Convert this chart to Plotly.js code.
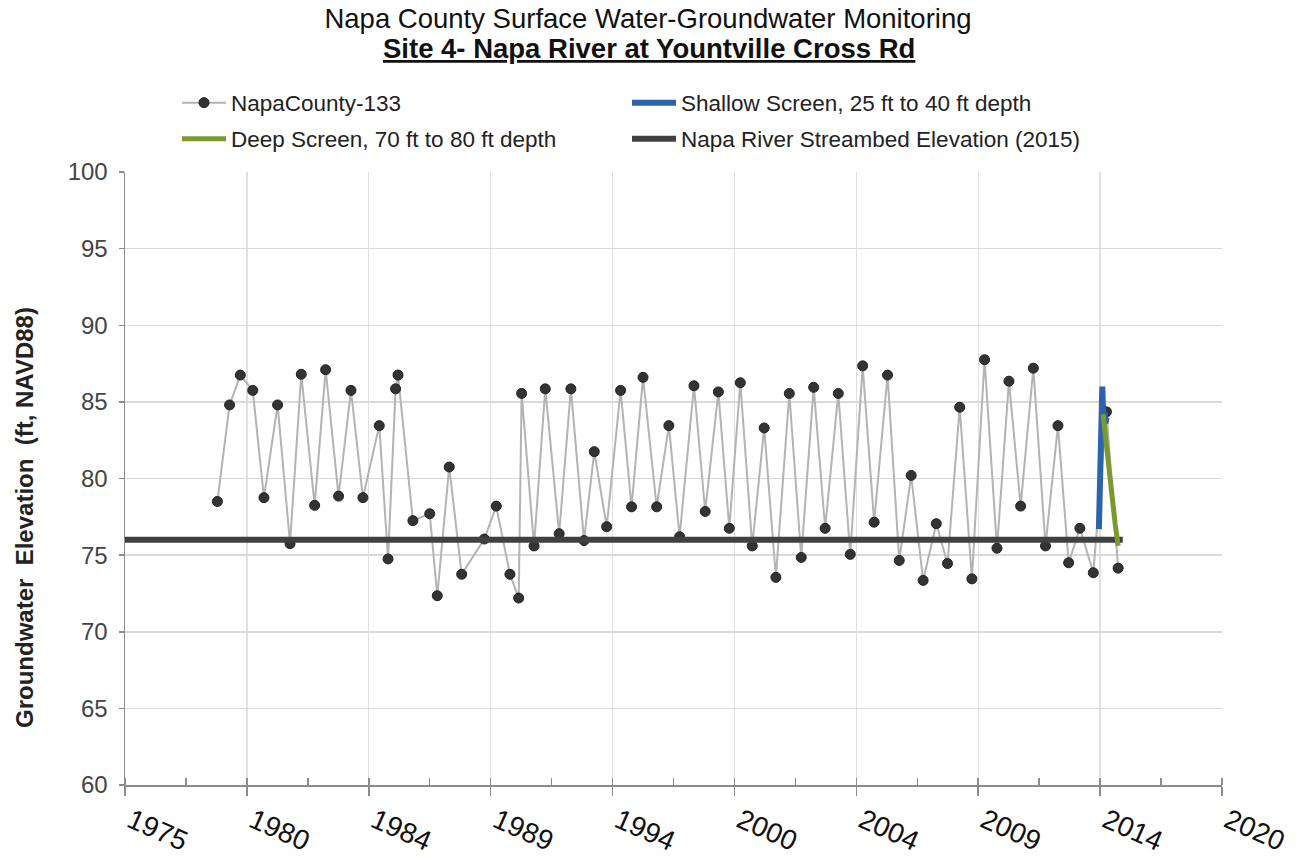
<!DOCTYPE html>
<html>
<head>
<meta charset="utf-8">
<script src="https://cdn.plot.ly/plotly-3.0.1.min.js"></script>
<style>html,body{margin:0;padding:0;background:#fff;}#chart{width:1296px;height:859px;}</style>
</head>
<body>
<div id="chart"></div>
<script>
// ---- data (decimal years on the chart's date axis, elevation in ft NAVD88) ----
var napaYears = [1978.79, 1979.29, 1979.73, 1980.24, 1980.70, 1981.26, 1981.77, 1982.23, 1982.78, 1983.23,
  1983.76, 1984.27, 1984.76, 1985.43, 1985.79, 1986.10, 1986.20, 1986.81, 1987.50, 1987.81,
  1988.30, 1988.81, 1989.74, 1990.23, 1990.79, 1991.15, 1991.27, 1991.78, 1992.24, 1992.81,
  1993.29, 1993.83, 1994.25, 1994.76, 1995.33, 1995.78, 1996.25, 1996.81, 1997.31, 1997.75,
  1998.34, 1998.80, 1999.34, 1999.79, 2000.24, 2000.73, 2001.22, 2001.70, 2002.25, 2002.74,
  2003.25, 2003.72, 2004.26, 2004.75, 2005.26, 2005.73, 2006.28, 2006.76, 2007.25, 2007.74,
  2008.28, 2008.74, 2009.24, 2009.74, 2010.26, 2010.77, 2011.26, 2011.74, 2012.26, 2012.76,
  2013.27, 2013.71, 2014.17, 2014.72, 2015.26, 2015.74];
var napaElev = [78.5, 84.8, 86.75, 85.75, 78.75, 84.8, 75.75, 86.8, 78.25, 87.1,
  78.85, 85.75, 78.75, 83.45, 74.75, 85.85, 86.75, 77.25, 77.7, 72.35,
  80.75, 73.75, 76.05, 78.2, 73.75, 72.2, 85.55, 75.6, 85.85, 76.4,
  85.85, 75.95, 81.75, 76.85, 85.75, 78.15, 86.6, 78.15, 83.45, 76.2,
  86.05, 77.85, 85.65, 76.75, 86.25, 75.6, 83.3, 73.55, 85.55, 74.85,
  85.95, 76.75, 85.55, 75.05, 87.35, 77.15, 86.75, 74.65, 80.2, 73.35,
  77.05, 74.45, 84.65, 73.45, 87.75, 75.45, 86.35, 78.2, 87.2, 75.6,
  83.45, 74.5, 76.75, 73.85, 84.35, 74.15];

var shallowYears = [2014.95, 2014.98, 2015.01, 2015.04, 2015.07, 2015.09, 2015.11, 2015.14, 2015.18, 2015.22, 2015.26];
var shallowElev  = [76.7, 79.5, 82.5, 84.0, 85.2, 86.0, 85.0, 83.8, 84.3, 83.6, 84.0];

var deepYears = [2015.12, 2015.20, 2015.35, 2015.50, 2015.62, 2015.74];
var deepElev  = [84.2, 83.0, 80.6, 78.5, 77.0, 75.6];

var streambedYears = [1975.0, 2015.93];
var streambedElev  = [76.0, 76.0];

var tickYears  = [1975, 1980, 1985, 1990, 1995, 2000, 2005, 2010, 2015, 2020];
var tickLabels = ['1975', '1980', '1984', '1989', '1994', '2000', '2004', '2009', '2014', '2020'];

var seriesNames = ['NapaCounty-133', 'Shallow Screen, 25 ft to 40 ft depth',
  'Deep Screen, 70 ft to 80 ft depth', 'Napa River Streambed Elevation (2015)'];

var titleText = 'Napa County Surface Water-Groundwater Monitoring';
var subtitleText = 'Site 4- Napa River at Yountville Cross Rd';
var yTitleText = 'Groundwater\u00a0 Elevation\u00a0 (ft, NAVD88)';

// ---- build ----
var alias = {};
tickYears.forEach(function (v, i) { alias[String(v)] = tickLabels[i]; });

var FONT = '"Liberation Sans", Arial, Helvetica, sans-serif';

var traces = [
  { x: napaYears, y: napaElev, name: seriesNames[0], type: 'scatter', mode: 'lines+markers',
    line: { color: '#b3b3b3', width: 2 },
    marker: { color: '#333333', size: 10, line: { color: '#222222', width: 1 } },
    legend: 'legend' },
  { x: streambedYears, y: streambedElev, name: seriesNames[3], type: 'scatter', mode: 'lines',
    line: { color: '#404040', width: 6 }, legend: 'legend4' },
  { x: shallowYears, y: shallowElev, name: seriesNames[1], type: 'scatter', mode: 'lines',
    line: { color: '#2f62ad', width: 6 }, legend: 'legend2' },
  { x: deepYears, y: deepElev, name: seriesNames[2], type: 'scatter', mode: 'lines',
    line: { color: '#7a9a2f', width: 5 }, legend: 'legend3' }
];

var legFont = { family: FONT, size: 22.5, color: '#222' };
var ITEMW = 44;
function leg(textLeftPx, rowPx) {
  return { x: (textLeftPx - ITEMW - 10 - 125) / 1097, y: 1 + (172 - rowPx) / 613,
    xanchor: 'left', yanchor: 'middle', orientation: 'h',
    font: legFont, bgcolor: 'rgba(0,0,0,0)', borderwidth: 0, itemwidth: ITEMW };
}

var layout = {
  width: 1296, height: 859,
  margin: { l: 125, r: 74, t: 172, b: 74, pad: 0 },
  paper_bgcolor: '#ffffff', plot_bgcolor: '#ffffff',
  font: { family: FONT, color: '#222' },
  showlegend: true,
  title: { text: titleText, xref: 'container', x: 0.5, xanchor: 'center',
    yref: 'container', y: 1 - 18 / 859, yanchor: 'middle', font: { family: FONT, size: 27.5, color: '#111' } },
  annotations: [{
    text: '<b><u>' + subtitleText + '</u></b>', xref: 'paper', yref: 'paper',
    x: (649 - 125) / 1097, y: 1 + (172 - 48) / 613, xanchor: 'center', yanchor: 'middle', showarrow: false,
    font: { family: FONT, size: 27.5, color: '#111' }
  }, {
    text: '<b>' + yTitleText + '</b>', xref: 'paper', yref: 'paper', textangle: -90,
    x: (24 - 125) / 1097, y: (785 - 518) / 613, xanchor: 'center', yanchor: 'middle', showarrow: false,
    font: { family: FONT, size: 24, color: '#222' }
  }],
  legend: leg(231, 103),
  legend2: leg(681, 103),
  legend3: leg(231, 139),
  legend4: leg(681, 139),
  xaxis: {
    range: [1975, 2020], tickmode: 'linear', tick0: 1975, dtick: 5, labelalias: alias,
    ticks: 'outside', ticklen: 9, tickwidth: 1.5, tickcolor: '#8c8c8c',
    showline: true, linecolor: '#8c8c8c', linewidth: 1.5,
    showgrid: true, gridcolor: '#e0e0e0', gridwidth: 1.3, zeroline: false,
    tickangle: 24, ticklabelshift: 6, ticklabelstandoff: -2, tickfont: { family: FONT, size: 28, color: '#111' },
    minor: { tick0: 1975, dtick: 2.5, ticks: 'inside', ticklen: 7, tickwidth: 1.5, tickcolor: '#8c8c8c', showgrid: false }
  },
  yaxis: {
    range: [60, 100], tickmode: 'linear', tick0: 60, dtick: 5,
    ticks: 'outside', ticklen: 5, tickwidth: 1.5, tickcolor: '#8c8c8c',
    showline: true, linecolor: '#8c8c8c', linewidth: 1.5,
    showgrid: true, gridcolor: '#dadada', gridwidth: 1.5, zeroline: false,
    ticklabelstandoff: 6,
    tickfont: { family: FONT, size: 24, color: '#444' }
  }
};

Plotly.newPlot('chart', traces, layout, { staticPlot: true, displayModeBar: false });
</script>
</body>
</html>
